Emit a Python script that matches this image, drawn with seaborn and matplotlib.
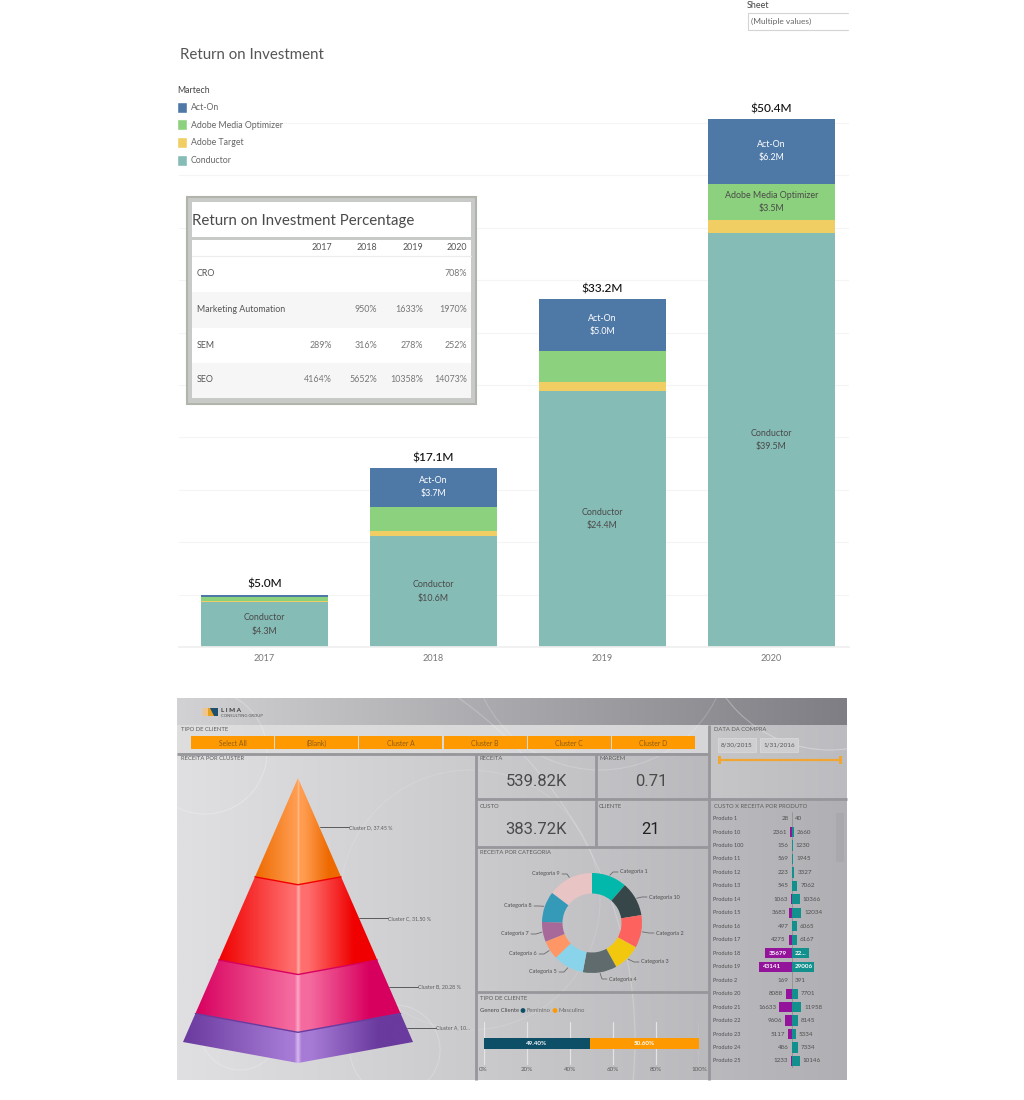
import numpy as np
import matplotlib
matplotlib.use('Agg')
import matplotlib.pyplot as plt
import seaborn as sns
from matplotlib.colors import LinearSegmentedColormap
from matplotlib.patches import Rectangle, Polygon, Circle, Patch

W, H = 1024, 1100

# top chart
years = ['2017', '2018', '2019', '2020']
act_on = [0.2, 3.7, 5.0, 6.2]
media_optimizer = [0.4, 2.3, 2.9, 3.5]
adobe_target = [0.1, 0.5, 0.9, 1.2]
conductor = [4.3, 10.6, 24.4, 39.5]
totals = [5.0, 17.1, 33.2, 50.4]

# percentage table
table_years = ['2017', '2018', '2019', '2020']
table_rows = ['CRO', 'Marketing Automation', 'SEM', 'SEO']
table_cells = [['', '', '', '708%'],
               ['', '950%', '1633%', '1970%'],
               ['289%', '316%', '278%', '252%'],
               ['4164%', '5652%', '10358%', '14073%']]

# dashboard
slicer_labels = ['Select All', '(Blank)', 'Cluster A', 'Cluster B', 'Cluster C', 'Cluster D']
cluster_names = ['Cluster D, 37.45 %', 'Cluster C, 31.50 %', 'Cluster B, 20.28 %', 'Cluster A, 10...']
cluster_share = [37.45, 31.50, 20.28, 10.77]
category_names = ['Categoria 1', 'Categoria 10', 'Categoria 2', 'Categoria 3', 'Categoria 4',
                  'Categoria 5', 'Categoria 6', 'Categoria 7', 'Categoria 8', 'Categoria 9']
category_share = [11.4, 11.1, 10.6, 8.9, 11.0, 9.9, 6.1, 6.4, 10.0, 14.7]
category_colors = ['#01B8AA', '#374649', '#FD625E', '#F2C80F', '#5F6B6D',
                   '#8AD4EB', '#FE9666', '#A66999', '#3599B8', '#E8C4C4']
gender_names = ['Feminino', 'Masculino']
gender_share = [49.40, 50.60]
pct_ticks = [0, 20, 40, 60, 80, 100]
produtos = ['Produto 1', 'Produto 10', 'Produto 100', 'Produto 11', 'Produto 12', 'Produto 13',
            'Produto 14', 'Produto 15', 'Produto 16', 'Produto 17', 'Produto 18', 'Produto 19',
            'Produto 2', 'Produto 20', 'Produto 21', 'Produto 22', 'Produto 23', 'Produto 24',
            'Produto 25']
custo = [28, 2361, 156, 569, 223, 545, 1063, 3683, 497, 4275, 35679, 43141,
         169, 8088, 16633, 9606, 5117, 486, 1233]
receita = [40, 2660, 1230, 1945, 3327, 7062, 10366, 12034, 6065, 6167, 22000, 29006,
           391, 7701, 11958, 8145, 5334, 7334, 10146]

sns.set_theme(style='white')
plt.rcParams['font.family'] = ['Lato', 'DejaVu Sans']


def px_axes(fig, left, top, right, bottom, z=1):
    a = fig.add_axes([left / W, 1 - bottom / H, (right - left) / W, (bottom - top) / H], zorder=z)
    a.patch.set_alpha(0)
    return a


fig = plt.figure(figsize=(W / 100, H / 100), dpi=100, facecolor='white')

# everything that is not a data axis is drawn in pixel coordinates
bg = px_axes(fig, 0, 0, W, H, 0)
fg = px_axes(fig, 0, 0, W, H, 5)
for a in (bg, fg):
    a.set_xlim(0, W)
    a.set_ylim(H, 0)
    a.axis('off')


def grad(a, x0, x1, y0, y1, c0, c1, z=1):
    cm = LinearSegmentedColormap.from_list('g', [c0, c1])
    a.imshow(np.linspace(0, 1, 256)[None, :], cmap=cm, extent=(x0, x1, y1, y0),
             aspect='auto', zorder=z, interpolation='bilinear')


# ---- top stacked bars
ax = px_axes(fig, 179, 101, 849, 647)
names = ['Act-On', 'Adobe Media Optimizer', 'Adobe Target', 'Conductor']
colors = ['#4E79A7', '#8CD17D', '#F1CE63', '#86BCB6']
stack = [conductor, adobe_target, media_optimizer, act_on]
stack_names = names[::-1]
stack_colors = colors[::-1]
bottom = np.zeros(4)
for vals, nm, col in zip(stack, stack_names, stack_colors):
    sns.barplot(x=years, y=vals, color=col, saturation=1, width=0.75, bottom=bottom, linewidth=0, ax=ax)
    for i, v in enumerate(vals):
        if v >= 3.5:
            tc = 'white' if nm == 'Act-On' else '#4a4a4a'
            ax.text(i, bottom[i] + v / 2, f'{nm}\n${v:.1f}M', ha='center', va='center',
                    fontsize=6.4, color=tc, linespacing=1.6)
    bottom = bottom + np.array(vals)
for i, t in enumerate(totals):
    ax.text(i, t + 0.45, f'${t:.1f}M', ha='center', va='bottom', fontsize=8.6, color='#111111',
            fontweight='medium')
ax.set_xlim(-0.506, 3.46)
ax.set_ylim(0, 52.1)
ax.set_yticks(np.arange(5, 51, 5))
ax.set_yticklabels([])
ax.grid(axis='y', color='#f4f4f4', lw=0.8)
ax.set_axisbelow(True)
ax.tick_params(axis='x', length=0, labelsize=6.6, labelcolor='#777777', pad=5)
ax.set_xlabel('')
ax.set_ylabel('')
sns.despine(ax=ax, left=True)
ax.spines['bottom'].set_color('#f0f0f0')

fg.text(180, 55, 'Return on Investment', fontsize=10.8, color='#555555', va='center')
handles = [Patch(facecolor=c, label=n) for c, n in zip(colors, names)]
leg = ax.legend(handles=handles, title='Martech', loc='upper left', frameon=False,
                bbox_to_anchor=(177 / W, 1 - 86 / H), bbox_transform=fig.transFigure,
                fontsize=6.3, title_fontsize=6.3, handlelength=1.1, handleheight=1.55,
                handletextpad=0.45, labelspacing=0.77, borderpad=0, borderaxespad=0)
leg._legend_box.align = 'left'
for t in leg.get_texts():
    t.set_color('#666666')
leg.get_title().set_color('#444444')

fg.text(747, 5, 'Sheet', fontsize=6.4, color='#444444', va='center')
fg.plot([848, 748, 748, 848], [13, 13, 30, 30], color='#d4d4d4', lw=0.8)
fg.text(751, 21.5, '(Multiple values)', fontsize=6, color='#666666', va='center')

# ---- percentage table card
fg.add_patch(Rectangle((187, 197), 289, 207, fc='#c8cac8', ec='#b0b4aa', lw=1.5))
fg.add_patch(Rectangle((192, 202), 279, 35, fc='white', ec='none'))
fg.add_patch(Rectangle((192, 240), 279, 158, fc='white', ec='none'))
fg.add_patch(Rectangle((192, 292), 279, 36, fc='#f6f6f6', ec='none'))
fg.add_patch(Rectangle((192, 363), 279, 35, fc='#f6f6f6', ec='none'))
fg.plot([192, 471], [256, 256], color='#ececec', lw=0.8)
fg.text(192, 221, 'Return on Investment Percentage', fontsize=10.8, color='#4a4a4a', va='center')
col_right = [332, 377, 423, 467]
row_y = [274, 309, 345, 380]
for x, y in zip(col_right, table_years):
    fg.text(x, 248, y, fontsize=6.4, color='#555555', ha='right', va='center')
for y, nm, cells in zip(row_y, table_rows, table_cells):
    fg.text(197, y, nm, fontsize=6.4, color='#555555', va='center')
    for x, c in zip(col_right, cells):
        fg.text(x, y, c, fontsize=6.4, color='#777777', ha='right', va='center')

# ---- dashboard background
grad(bg, 177, 847, 698, 725, '#d2d2d4', '#7e7e84')
grad(bg, 177, 847, 725, 1080, '#e0e0e2', '#b0b0b4')
grad(bg, 177, 709, 725, 753, '#dedede', '#d6d6d8', 2)
grad(bg, 709, 847, 725, 798, '#c6c6c8', '#bcbcc0', 2)
clip = Rectangle((177, 698), 670, 382, transform=bg.transData)
for cx, cy, r, a in [(205, 752, 62, 0.25), (215, 1040, 420, 0.22), (240, 1030, 40, 0.22),
                     (395, 1050, 45, 0.2), (830, 620, 130, 0.3), (600, 640, 130, 0.18),
                     (470, 900, 130, 0.12)]:
    c = Circle((cx, cy), r, fc='none', ec='white', lw=0.8, alpha=a, zorder=3)
    bg.add_patch(c)
    c.set_clip_path(clip)
for x0, y0, x1, y1 in [(177, 754, 709, 754), (476, 754, 476, 1080), (596, 754, 596, 846),
                       (476, 799, 709, 799), (476, 847, 709, 847), (476, 992, 709, 992),
                       (709, 725, 709, 1080), (709, 799, 847, 799)]:
    bg.plot([x0, x1], [y0, y1], color='#97979b', lw=2, zorder=4, solid_capstyle='butt')

# logo
bg.add_patch(Rectangle((203, 708), 6, 8, fc='#f3c48a', ec='none', zorder=5))
bg.add_patch(Polygon([(208, 708), (218, 708), (218, 716), (208, 716)], fc='#e8a020', ec='none', zorder=5))
bg.add_patch(Polygon([(210, 708), (218, 708), (218, 716), (214, 716)], fc='#1d4f6e', ec='none', zorder=5))
bg.text(221, 710, 'L I M A', fontsize=4.6, fontweight='bold', color='#3a3a3a', va='center', zorder=5)
bg.text(221, 716, 'CONSULTING GROUP', fontsize=3, color='#555555', va='center', zorder=5)


def head(x, y, s):
    bg.text(x, y, s, fontsize=4.2, color='#5c5c5c', va='center', zorder=5)


head(181, 729.5, 'TIPO DE CLIENTE')
head(181, 759, 'RECEITA POR CLUSTER')
head(480, 759, 'RECEITA')
head(599, 759, 'MARGEM')
head(480, 807, 'CUSTO')
head(599, 807, 'CLIENTE')
head(480, 852, 'RECEITA POR CATEGORIA')
head(480, 998, 'TIPO DE CLIENTE')
head(714, 729.5, 'DATA DA COMPRA')
head(714, 806, 'CUSTO X RECEITA POR PRODUTO')

# slicer
for i, s in enumerate(slicer_labels):
    x0 = 191 + i * 84.2
    bg.add_patch(Rectangle((x0, 736), 83, 13, fc='#FF9900', ec='none', zorder=5))
    bg.text(x0 + 41.5, 743, s, fontsize=4.9, color='#8a5c14', ha='center', va='center_baseline', zorder=6)

# KPIs
for x, y, s, c in [(536, 782, '539.82K', '#4a4a4a'), (651, 782, '0.71', '#4a4a4a'),
                   (536, 829, '383.72K', '#4a4a4a'), (651, 830, '21', '#222222')]:
    bg.text(x, y, s, fontsize=12, color=c, ha='center', va='center', zorder=6,
            family=['Roboto', 'DejaVu Sans'])

# date slicer
for x0, x1, s in [(718, 756, '8/30/2015'), (760, 798, '1/31/2016')]:
    bg.add_patch(Rectangle((x0, 738), x1 - x0, 14, fc='#cfcfd2', ec='#d8d8da', lw=0.6, zorder=5))
    bg.text((x0 + x1) / 2, 745, s, fontsize=4.6, color='#555555', ha='center', va='center', zorder=6)
bg.plot([719, 840], [760, 760], color='#F2A632', lw=1.6, zorder=5)
for x in (719.5, 840):
    bg.add_patch(Rectangle((x - 1.5, 756), 3, 8, fc='#F2A632', ec='none', zorder=6))

# ---- pyramid, layer heights follow the cluster shares
apex_x, apex_y = 298, 778
half_w, side_h, front_h = 115, 264, 285
layer_cols = [('#ee6a00', '#ff9c50', '#ffc090'), ('#f00000', '#ff6e6e', '#ffb0ac'),
              ('#d8005f', '#f46a9e', '#ffa8c8'), ('#6a3a9e', '#a67bd6', '#d8b8f0')]
t0 = 0.0
cum = np.cumsum(cluster_share) / np.sum(cluster_share)
for k in range(4):
    t1 = cum[k]
    tl, tr = apex_x - half_w * t0, apex_x + half_w * t0
    bl, br = apex_x - half_w * t1, apex_x + half_w * t1
    ys0, ys1 = apex_y + side_h * t0, apex_y + side_h * t1
    yf0, yf1 = apex_y + front_h * t0, apex_y + front_h * t1
    pts = [(tl, ys0), (apex_x, yf0), (tr, ys0), (br, ys1), (apex_x, yf1), (bl, ys1)]
    dark, light, high = layer_cols[k]
    cm = LinearSegmentedColormap.from_list('lay', [(0, dark), (0.46, light), (0.485, light), (0.5, high),
                                                   (0.515, light), (0.56, light), (0.85, dark), (1, dark)])
    im = bg.imshow(np.linspace(0, 1, 400)[None, :], cmap=cm, extent=(bl, br, yf1, ys0),
                   aspect='auto', zorder=6)
    poly = Polygon(pts, transform=bg.transData, fc='none', ec='none')
    bg.add_patch(poly)
    im.set_clip_path(poly)
    if k > 0:
        bg.plot([tl, apex_x, tr], [ys0, yf0, ys0], color=dark, lw=1, zorder=7)
    # leader line and label
    tm = (t0 + t1) / 2
    lx, ly = apex_x + half_w * tm, apex_y + side_h * tm
    bg.plot([lx, lx + 29], [ly, ly], color='#5a5a5a', lw=0.7, zorder=7)
    bg.text(lx + 29, ly, cluster_names[k], fontsize=3.8, color='#5c5c5c', va='center', zorder=7)
    t0 = t1

# ---- donut
pie_ax = px_axes(fig, 592 - 50, 923 - 50, 592 + 50, 923 + 50, 2)
pie_ax.pie(category_share, colors=category_colors, startangle=90, counterclock=False, radius=1,
           wedgeprops=dict(width=0.41, linewidth=0))
pie_ax.set_xlim(-1, 1)
pie_ax.set_ylim(-1, 1)
label_pos = [(620, 872), (649, 897), (656, 933), (641, 962), (609, 979),
             (557, 972), (537, 954), (529, 934), (532, 906), (560, 874)]
ang = 0.0
tot = sum(category_share)
for nm, v, (tx, ty) in zip(category_names, category_share, label_pos):
    mid = np.radians(ang + v / tot * 180)
    ang += v / tot * 360
    ex, ey = 592 + 51 * np.sin(mid), 923 - 51 * np.cos(mid)
    right = tx > 592
    gx = tx - 2 if right else tx + 2
    bg.plot([ex, gx - (5 if right else -5), gx], [ey, ty, ty], color='#6a6a6a', lw=0.6, zorder=6)
    bg.text(tx, ty, nm, fontsize=4, color='#505050', va='center', ha='left' if right else 'right', zorder=6)

# ---- gender share
g_ax = px_axes(fig, 483.5, 1022, 699, 1065, 2)
sns.barplot(y=['x'], x=[gender_share[0]], orient='h', color='#0E4F68', saturation=1, width=0.24,
            linewidth=0, ax=g_ax)
sns.barplot(y=['x'], x=[gender_share[1]], orient='h', color='#FF9900', saturation=1, width=0.24,
            left=[gender_share[0]], linewidth=0, ax=g_ax)
g_ax.text(gender_share[0] / 2, 0, f'{gender_share[0]:.2f}%', color='white', fontsize=4.5, fontweight='bold',
          ha='center', va='center')
g_ax.text(gender_share[0] + gender_share[1] / 2, 0, f'{gender_share[1]:.2f}%', color='white', fontsize=4.5,
          fontweight='bold', ha='center', va='center')
g_ax.set_xlim(0, 100)
g_ax.set_xticks(pct_ticks)
g_ax.set_xticklabels([f'{p}%' for p in pct_ticks])
g_ax.set_yticks([])
g_ax.set_xlabel('')
g_ax.set_ylabel('')
g_ax.grid(axis='x', color='#e4e4e6', lw=0.9)
g_ax.set_axisbelow(True)
g_ax.tick_params(axis='x', length=0, labelsize=4.5, labelcolor='#5c5c5c', pad=1.5)
for s in g_ax.spines.values():
    s.set_visible(False)
bg.text(480, 1010, 'Genero Cliente', fontsize=4.2, color='#4a4a4a', va='center', zorder=6)
for x, c, nm in [(523, '#0E4F68', gender_names[0]), (555, '#FF9900', gender_names[1])]:
    bg.add_patch(Circle((x, 1010.5), 2.4, fc=c, ec='none', zorder=6))
    bg.text(x + 3.5, 1010.5, nm, fontsize=4.2, color='#6a6a6a', va='center', zorder=6)

# ---- custo x receita butterfly
b_ax = px_axes(fig, 712, 811.8, 846, 1067.7, 2)
sns.barplot(y=produtos, x=-np.array(custo), orient='h', color='#93139A', saturation=1, width=0.76,
            linewidth=0, ax=b_ax)
sns.barplot(y=produtos, x=receita, orient='h', color='#12908E', saturation=1, width=0.76,
            linewidth=0, ax=b_ax)
b_ax.set_xlim(-105000, 71000)
b_ax.set_ylim(18.5, -0.5)
b_ax.axvline(0, color='#8a8a8e', lw=0.5, zorder=0)
b_ax.set_xlabel('')
b_ax.set_ylabel('')
b_ax.set_xticks([])
b_ax.set_yticks([])
for s in b_ax.spines.values():
    s.set_visible(False)
for i, (nm, c, r) in enumerate(zip(produtos, custo, receita)):
    b_ax.text(0.006, i, nm, transform=b_ax.get_yaxis_transform(), fontsize=4, color='#4f4f4f', va='center')
    big = c > 20000
    b_ax.annotate(str(c), (-c, i), xytext=(4 if big else -3, 0), textcoords='offset pixels',
                  ha='left' if big else 'right', va='center', fontsize=4.5,
                  color='white' if big else '#4f4f4f', fontweight='bold' if big else 'normal')
    big = r > 20000
    lab = '22...' if nm == 'Produto 18' else str(r)
    b_ax.annotate(lab, (r, i) if not big else (0, i), xytext=(3, 0), textcoords='offset pixels',
                  ha='left', va='center', fontsize=4.5,
                  color='white' if big else '#4f4f4f', fontweight='bold' if big else 'normal')
bg.add_patch(Rectangle((836, 813), 8, 49, fc='#a9a9ad', ec='none', zorder=5))

bg.set_xlim(0, W)
bg.set_ylim(H, 0)
fig.savefig('out.png', dpi=100, facecolor='white')
